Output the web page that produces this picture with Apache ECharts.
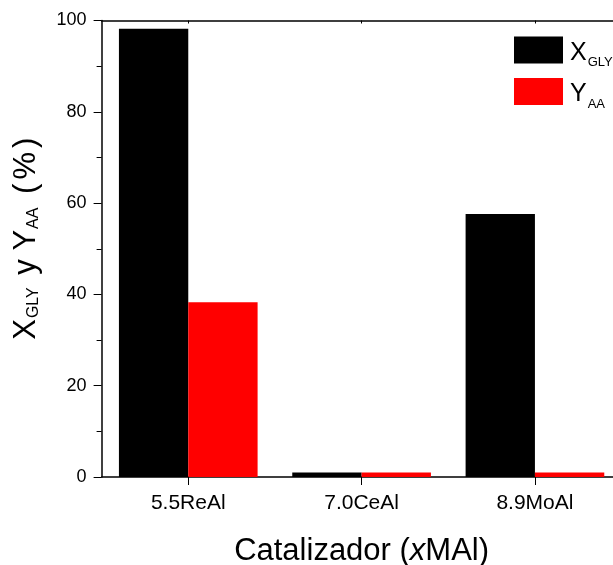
<!DOCTYPE html>
<html><head><meta charset="utf-8">
<script src="https://cdn.jsdelivr.net/npm/echarts@6/dist/echarts.min.js"></script>
<style>html,body{margin:0;padding:0;background:#fff}#c{width:613px;height:565px}</style>
</head><body><div id="c"></div>
<script>
var categories = ['5.5ReAl', '7.0CeAl', '8.9MoAl'];
var xGly = [98.2, 1.0, 57.6];
var yAA = [38.3, 1.0, 1.0];
var yTicks = [0, 20, 40, 60, 80, 100];

var FONT = '"Liberation Sans", Arial, sans-serif';
var chart = echarts.init(document.getElementById('c'));
chart.setOption({
  animation: false,
  textStyle: {fontFamily: FONT},
  grid: {left: 101.6, top: 20.5, width: 520, height: 456.5, show: false, outerBoundsMode: 'none', containLabel: false},
  legend: {
    orient: 'vertical', left: 509, top: 31.5, itemWidth: 49, itemHeight: 27, itemGap: 9,
    icon: 'rect',
    data: ['X', 'Y'],
    formatter: function (n) { return n === 'X' ? '{m|X}{s|GLY}' : '{m|Y}{s|AA}'; },
    textStyle: {
      padding: [13, 0, 0, 2],
      rich: {
        m: {fontSize: 25, color: '#000', fontFamily: FONT, lineHeight: 25, verticalAlign: 'bottom', padding: [0, 0, 3.5, 0]},
        s: {fontSize: 13, color: '#000', fontFamily: FONT, lineHeight: 14, verticalAlign: 'bottom', padding: [0, 0, 0, 1]}
      }
    }
  },
  xAxis: [{
    type: 'category', data: categories, position: 'bottom',
    axisLine: {lineStyle: {color: '#000', width: 1.5}},
    axisTick: {show: true, alignWithLabel: true, length: 8, lineStyle: {color: '#000', width: 1}},
    axisLabel: {fontSize: 21, color: '#000', margin: 16, fontFamily: FONT},
    name: '{n|Catalizador (}{i|x}{n|MAl)}',
    nameLocation: 'middle', nameGap: 59,
    nameTextStyle: {rich: {
      n: {fontSize: 31, color: '#000', fontFamily: FONT},
      i: {fontSize: 31, color: '#000', fontFamily: FONT, fontStyle: 'italic'}
    }}
  }, {
    type: 'category', data: categories, position: 'top',
    axisLine: {lineStyle: {color: '#000', width: 1.5}},
    axisTick: {show: true, inside: true, alignWithLabel: true, length: 3, lineStyle: {color: '#000'}},
    axisLabel: {show: false}
  }],
  yAxis: {
    type: 'value', min: 0, max: 100, interval: 20,
    axisLine: {show: true, lineStyle: {color: '#000', width: 1.5}},
    axisTick: {show: true, length: 8, lineStyle: {color: '#000'}},
    minorTick: {show: true, splitNumber: 2, length: 5, lineStyle: {color: '#000'}},
    splitLine: {show: false},
    axisLabel: {fontSize: 18, color: '#000', margin: 15, fontFamily: FONT,
      formatter: function (v) { return yTicks.indexOf(v) >= 0 ? String(v) : ''; }},
    name: '{f|X}{s|GLY}{m| y Y}{t|AA}{m| }{p|(}{q|%}{p|)}',
    nameLocation: 'middle', nameGap: 58, nameRotate: 90,
    nameTextStyle: {rich: {
      f: {fontSize: 31, color: '#000', fontFamily: FONT, lineHeight: 34, padding: [0, 0, 0, 20]},
      m: {fontSize: 31, color: '#000', fontFamily: FONT, lineHeight: 34},
      p: {fontSize: 31, color: '#000', fontFamily: FONT, lineHeight: 34},
      q: {fontSize: 31, color: '#000', fontFamily: FONT, lineHeight: 34, padding: [0, 4, 0, 4]},
      s: {fontSize: 16, color: '#000', fontFamily: FONT, padding: [14, 4, 0, 1], lineHeight: 34},
      t: {fontSize: 16, color: '#000', fontFamily: FONT, padding: [14, 5, 0, 1], lineHeight: 34}
    }}
  },
  series: [
    {name: 'X', type: 'bar', data: xGly, barGap: '0%', barCategoryGap: '20%', itemStyle: {color: '#000'}},
    {name: 'Y', type: 'bar', data: yAA, itemStyle: {color: '#ff0000'}}
  ]
});
</script></body></html>
